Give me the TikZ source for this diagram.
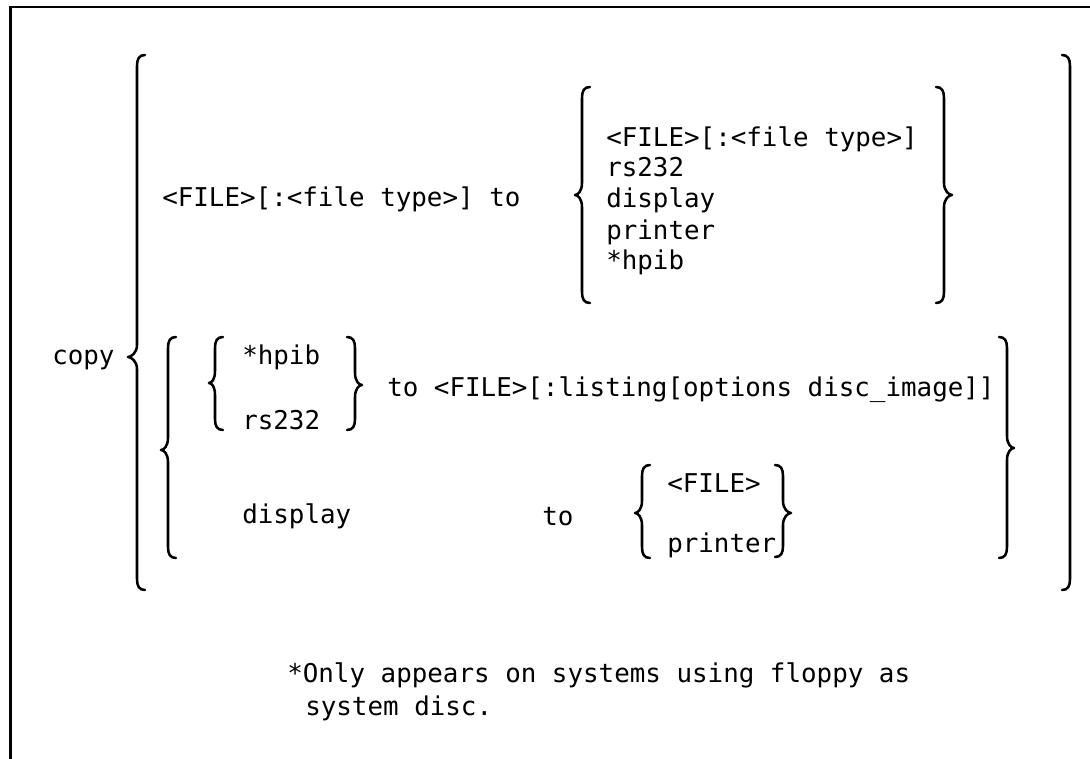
\documentclass[tikz,border=0pt]{standalone}
\usepackage{fontspec}
\setmonofont{DejaVu Sans Mono}
\newcommand\LBr[5]{% X, top, bottom, tip y, tip depth
  \draw[brc] (#1+8,#2) .. controls (#1+2,#2) and (#1,#2+4) .. (#1,#2+11)
    -- (#1,#4-12) .. controls (#1,#4-4) and (#1-#5+3,#4) .. (#1-#5,#4)
    .. controls (#1-#5+3,#4) and (#1,#4+4) .. (#1,#4+12)
    -- (#1,#3-11) .. controls (#1,#3-4) and (#1+2,#3) .. (#1+8,#3);}
\newcommand\RBr[5]{%
  \draw[brc] (#1-8,#2) .. controls (#1-2,#2) and (#1,#2+4) .. (#1,#2+11)
    -- (#1,#4-12) .. controls (#1,#4-4) and (#1+#5-3,#4) .. (#1+#5,#4)
    .. controls (#1+#5-3,#4) and (#1,#4+4) .. (#1,#4+12)
    -- (#1,#3-11) .. controls (#1,#3-4) and (#1-2,#3) .. (#1-8,#3);}
\newcommand\RBk[3]{%
  \draw[brc] (#1-8,#2) .. controls (#1-2,#2) and (#1,#2+4) .. (#1,#2+11)
    -- (#1,#3-11) .. controls (#1,#3-4) and (#1-2,#3) .. (#1-8,#3);}
\begin{document}
\begin{tikzpicture}[x=0.75pt,y=-0.75pt,
  txt/.style={anchor=base west,inner sep=0pt,font=\ttfamily\fontsize{19.4}{23}\selectfont},
  brc/.style={line width=1.9pt,line cap=round,line join=round},
  frm/.style={line width=2.2pt}]
\useasboundingbox (0,0) rectangle (1090,759);
% frame (top and left edges)
\draw[frm] (1092,7) -- (10.5,7) -- (10.5,762);
% texts
\node[txt] (copy) at (52,365) {copy};
\node[txt] (src1) at (162,207) {<FILE>[:<file type>] to};
\node[txt] (d1) at (606,147) {<FILE>[:<file type>]};
\node[txt] (d2) at (606,177) {rs232};
\node[txt] (d3) at (606,208) {display};
\node[txt] (d4) at (606,240) {printer};
\node[txt] (d5) at (606,270) {*hpib};
\node[txt] (s1) at (242,365) {*hpib};
\node[txt] (s2) at (242,430) {rs232};
\node[txt] (dst2) at (387,397) {to <FILE>[:listing[options disc\_image]]};
\node[txt] (s3) at (242,523) {display};
\node[txt] (to3) at (542,525) {to};
\node[txt] (e1) at (667,493) {<FILE>};
\node[txt] (e2) at (667,552) {printer};
\node[txt] (n1) at (287,682) {*Only appears on systems using floppy as};
\node[txt] (n2) at (305,715) {system disc.};
% braces
\LBr{137}{55}{590}{357}{9}
\RBk{1070}{55}{590}
\LBr{582}{87}{303}{195}{7}
\RBr{944}{87}{303}{195}{8}
\LBr{168}{337}{558}{450}{7}
\RBr{1007}{337}{558}{448}{7}
\LBr{215}{337}{430}{383}{6}
\RBr{355}{337}{430}{385}{7}
\LBr{642}{465}{558}{513}{7}
\RBr{783}{465}{557}{513}{8}
\end{tikzpicture}
\end{document}
